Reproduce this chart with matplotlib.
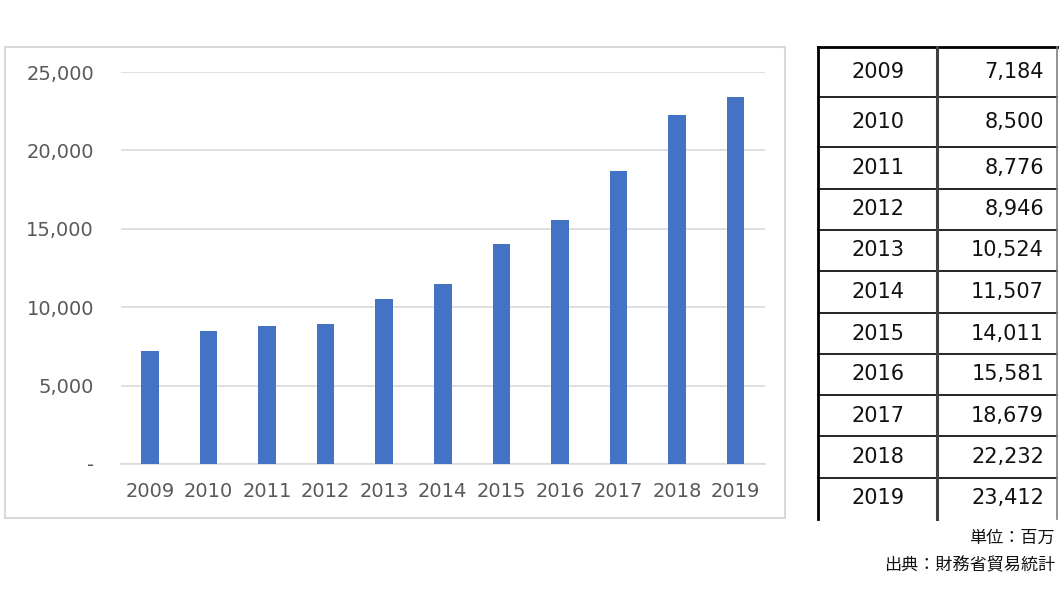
import matplotlib
matplotlib.use("Agg")
import matplotlib.pyplot as plt
from matplotlib.lines import Line2D
from matplotlib.patches import Rectangle

plt.rcParams['font.family'] = ['DejaVu Sans', 'Noto Sans CJK JP']

years = ['2009', '2010', '2011', '2012', '2013', '2014', '2015', '2016', '2017', '2018', '2019']
values = [7184, 8500, 8776, 8946, 10524, 11507, 14011, 15581, 18679, 22232, 23412]
yticks = [0, 5000, 10000, 15000, 20000, 25000]
ytick_labels = ['-', '5,000', '10,000', '15,000', '20,000', '25,000']
note_unit = '単位：百万'
note_source = '出典：財務省貿易統計'

W, H = 1060, 606
fig = plt.figure(figsize=(W / 100, H / 100), dpi=100)
fig.patch.set_facecolor('white')

def fx(px):
    return px / W

def fy(py):
    return 1 - py / H

# chart frame
fig.patches.append(Rectangle((fx(5), fy(518)), fx(785) - fx(5), fy(47) - fy(518),
                             transform=fig.transFigure, fill=False,
                             edgecolor='#D9D9D9', linewidth=1.5))

ax = fig.add_axes([fx(120.5), fy(464), fx(765) - fx(120.5), fy(72) - fy(464)])
x = range(len(years))
ax.bar(x, values, width=0.30, color='#4472C4', zorder=3)
ax.set_xlim(-0.5, len(years) - 0.5)
ax.set_ylim(0, 25000)
ax.set_yticks(yticks)
ax.set_yticklabels(ytick_labels)
ax.set_xticks(list(x))
ax.set_xticklabels(years)
ax.grid(axis='y', color='#D9D9D9', linewidth=1.2, zorder=0)
for s in ['top', 'right', 'left']:
    ax.spines[s].set_visible(False)
ax.spines['bottom'].set_color('#D9D9D9')
ax.spines['bottom'].set_linewidth(1.2)
ax.tick_params(axis='both', length=0, labelsize=14, colors='#595959')
ax.tick_params(axis='y', pad=19)
ax.tick_params(axis='x', pad=13)

# table
row_bounds = [47, 97, 147, 189, 230, 271, 313, 354, 395, 436, 478, 519]
tl, tm, tr = 818, 937, 1057
def hline(y, x0, x1, lw=1.2, c='black'):
    fig.lines.append(Line2D([fx(x0), fx(x1)], [fy(y), fy(y)], transform=fig.transFigure,
                            color=c, linewidth=lw))
def vline(xp, y0, y1, lw=1.2, c='black'):
    fig.lines.append(Line2D([fx(xp), fx(xp)], [fy(y0), fy(y1)], transform=fig.transFigure,
                            color=c, linewidth=lw))

for i, yb in enumerate(row_bounds[:-1]):
    lw = 2.0 if i == 0 else 1.2
    hline(yb, tl, tr, lw=lw)
vline(tl, 47, 519, lw=2.0)
vline(tm, 47, 519, lw=2.2, c='#404040')
vline(tr, 47, 519, lw=1.2, c='#808080')

for i, (yr, v) in enumerate(zip(years, values)):
    yc = (row_bounds[i] + row_bounds[i + 1]) / 2
    fig.text(fx(878), fy(yc), yr, ha='center', va='center', fontsize=15, color='#111111')
    fig.text(fx(1044), fy(yc), f'{v:,}', ha='right', va='center', fontsize=15, color='#111111')

fig.text(fx(1055), fy(538), note_unit, ha='right', va='center', fontsize=12.3,
         family=['Noto Sans CJK JP', 'DejaVu Sans'], color='#111111')
fig.text(fx(1055), fy(565), note_source, ha='right', va='center', fontsize=12.3,
         family=['Noto Sans CJK JP', 'DejaVu Sans'], color='#111111')

fig.savefig('out.png', dpi=100, facecolor='white')
